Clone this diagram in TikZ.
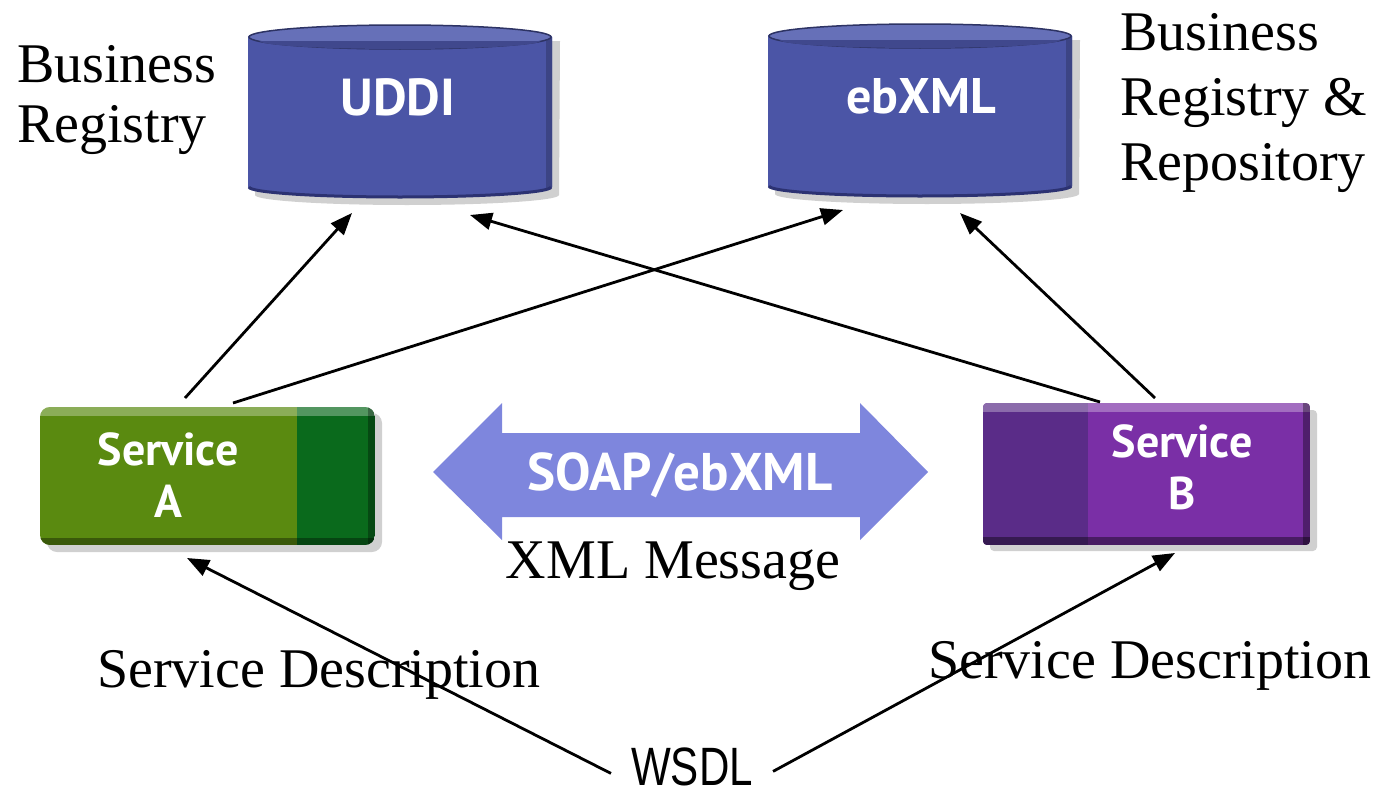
\documentclass[tikz,border=0pt]{standalone}
\usepackage{fontspec}
\setmainfont{Liberation Serif}
\newfontfamily\ptsans{PT Sans}
\newfontfamily\lsans{Liberation Sans}
\usetikzlibrary{arrows.meta,calc}
\definecolor{cylblue}{HTML}{4B55A6}
\definecolor{cyltop}{HTML}{6670B8}
\definecolor{cyldark}{HTML}{2C3272}
\definecolor{grnL}{HTML}{5A8A10}
\definecolor{grnD}{HTML}{0A6A1C}
\definecolor{purL}{HTML}{7A2FA6}
\definecolor{purD}{HTML}{5A2C88}
\definecolor{arrblue}{HTML}{7E86DD}
\definecolor{shadowc}{HTML}{D0D0D0}
\tikzset{
  frame/.style={rectangle, draw=none, inner sep=0pt, outer sep=0pt},
  serif/.style={font=\fontsize{56}{60}\selectfont, inner sep=0pt, text=black},
  wlabel/.style={font=\ptsans\bfseries, text=white, inner sep=0pt, align=center},
  conn/.style={-{Triangle[length=22pt,width=17pt]}, line width=2.8pt, black},
  cylpic/.pic={
    \fill[shadowc] (-145,-70) -- (-145,84) arc[start angle=180,end angle=0,x radius=152,y radius=10] -- (160,-70) -- cycle;
    \fill[cylblue] (-152,-74) -- (-152,76) arc[start angle=180,end angle=0,x radius=152,y radius=10]
       -- (152,-74) arc[start angle=0,end angle=-180,x radius=152,y radius=12] -- cycle;
    \fill[cylblue!80!black] (152,-74) -- (152,76) -- (146,78) -- (146,-70) -- cycle;
    \draw[cyldark, line width=3pt] (-151,76) arc[start angle=180,end angle=0,x radius=151,y radius=10];
    \filldraw[fill=cyltop, draw=cylblue!60!black, line width=1.5pt] (0,-74) ellipse[x radius=151, y radius=12];
    \fill[cylblue!85!black] (-140,-70) arc[start angle=180,end angle=0,x radius=140,y radius=8] -- cycle;
  }
}
\begin{document}
\begin{tikzpicture}[x=1pt,y=-1pt]
\useasboundingbox (0,0) rectangle (1377,795);

% ---------- cylinders
\node[frame, minimum width=304pt, minimum height=172pt] (uddi) at (400,111) {};
\pic at (uddi.center) {cylpic};
\node[wlabel, font=\ptsans\bfseries\fontsize{52}{52}\selectfont, anchor=base] (uddiT) at (398,115) {UDDI};

\node[frame, minimum width=300pt, minimum height=174pt] (ebxml) at (920,110) {};
\pic at (ebxml.center) {cylpic};
\node[wlabel, font=\ptsans\bfseries\fontsize{50}{50}\selectfont, anchor=base] (ebxmlT) at (921,113) {ebXML};

% ---------- service A
\node[frame, minimum width=335pt, minimum height=138pt] (svcA) at (207.5,476) {};
\fill[shadowc, rounded corners=10pt] (47,413) rectangle (382,552);
\begin{scope}
  \clip[rounded corners=10pt] (40,407) rectangle (375,545);
  \fill[grnL] (40,407) rectangle (297,545);
  \fill[grnD] (297,407) rectangle (375,545);
  \fill[white, opacity=0.3] (40,407) rectangle (375,416);
  \fill[black, opacity=0.35] (40,538) rectangle (375,545);
  \fill[black, opacity=0.3] (368,407) rectangle (375,545);
\end{scope}
\node[wlabel, font=\ptsans\bfseries\fontsize{46}{52}\selectfont] (svcAT) at (168,475) {Service\\A};

% ---------- service B
\node[frame, minimum width=327pt, minimum height=142pt] (svcB) at (1146.5,474) {};
\fill[shadowc, rounded corners=4pt] (990,410) rectangle (1317,551);
\begin{scope}
  \clip[rounded corners=4pt] (983,403) rectangle (1310,545);
  \fill[purL] (983,403) rectangle (1310,545);
  \fill[purD] (983,403) rectangle (1088,545);
  \fill[white, opacity=0.3] (983,403) rectangle (1310,412);
  \fill[black, opacity=0.4] (983,537) rectangle (1310,545);
  \fill[black, opacity=0.35] (1303,403) rectangle (1310,545);
\end{scope}
\node[wlabel, font=\ptsans\bfseries\fontsize{46}{52}\selectfont] (svcBT) at (1182,467.5) {Service\\B};

% ---------- double arrow
\fill[arrblue] (433,472) -- (502,403) -- (502,433) -- (860,433) -- (860,403) -- (928,472)
   -- (860,540) -- (860,517) -- (502,517) -- (502,540) -- cycle;
\node[wlabel, font=\ptsans\bfseries\fontsize{53}{53}\selectfont, anchor=base] (soapT) at (680,490) {SOAP/ebXML};

% ---------- serif labels
\node[serif, align=left, anchor=north west, font=\fontsize{56}{60}\selectfont] (breg) at (17,45) {Business\\Registry};
\node[serif, align=left, anchor=north west, font=\fontsize{56}{65}\selectfont] (brr) at (1120,13) {Business\\Registry \&\\Repository};
\node[serif, anchor=base] (xmlmsg) at (673,578) {XML Message};
\node[serif, anchor=base west] (sdA) at (97,687) {Service Description};
\node[serif, anchor=base west] (sdB) at (928,678) {Service Description};
\node[inner sep=0pt, anchor=base, font=\lsans\fontsize{54}{54}\selectfont] (wsdl) at (692,785) {\scalebox{0.78}[1]{WSDL}};

% ---------- connectors
\draw[conn] ([xshift=-22.5pt,yshift=9pt]svcA.north) -- ([xshift=-48pt,yshift=-16pt]uddi.south);
\draw[conn] ([xshift=25.5pt,yshift=4pt]svcA.north) -- ([xshift=-77pt,yshift=-13pt]ebxml.south);
\draw[conn] ([xshift=-46.5pt,yshift=1pt]svcB.north) -- ([xshift=70pt,yshift=-18pt]uddi.south);
\draw[conn] ([xshift=8.5pt,yshift=5pt]svcB.north) -- ([xshift=40pt,yshift=-16pt]ebxml.south);
\draw[conn] ([xshift=-20pt,yshift=-7pt]wsdl.west) -- ([xshift=-20.5pt,yshift=-13pt]svcA.south);
\draw[conn] ([xshift=20pt,yshift=-5pt]wsdl.east) -- ([xshift=28.5pt,yshift=-8pt]svcB.south);
\end{tikzpicture}
\end{document}
